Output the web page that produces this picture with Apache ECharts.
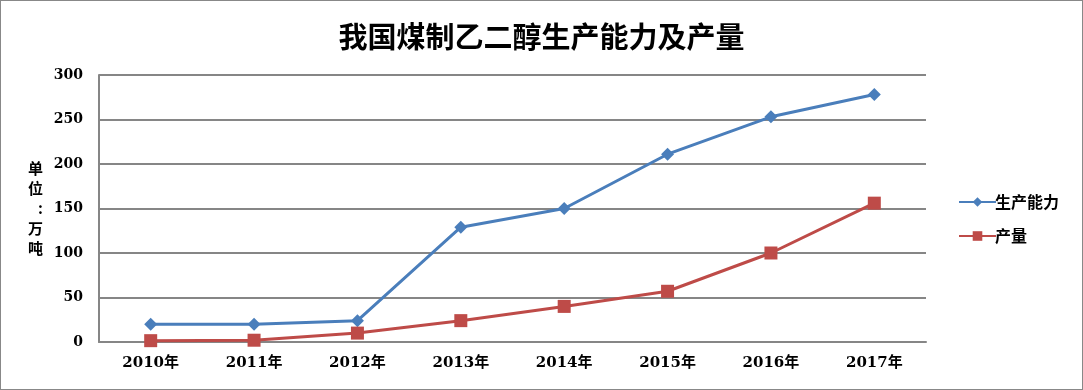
<!DOCTYPE html>
<html><head><meta charset="utf-8">
<script src="https://cdn.jsdelivr.net/npm/echarts@6/dist/echarts.min.js"></script>
<style>html,body{margin:0;padding:0;background:#fff}#wrap{position:relative;width:1083px;height:390px}#c{width:1083px;height:390px}#b{position:absolute;left:0;top:0;width:1083px;height:390px;box-sizing:border-box;border:1px solid #888;pointer-events:none}</style>
</head><body><div id="wrap"><div id="c"></div><div id="b"></div></div>
<script>
const categories = ['2010年','2011年','2012年','2013年','2014年','2015年','2016年','2017年'];
const capacity = [20, 20, 24, 129, 150, 211, 253, 278];
const output = [1.5, 2, 10, 24, 40, 57, 100, 156];
const seriesNames = ['生产能力', '产量'];
const titleText = '我国煤制乙二醇生产能力及产量';
const yName = '单\n位\n:\n万\n吨';

const FONT = '"DejaVu Serif","Noto Sans CJK SC",serif';
const chart = echarts.init(document.getElementById('c'));
chart.setOption({
  animation: false,
  backgroundColor: '#fff',
  title: { text: titleText, left: 'center', top: 17, textStyle: { fontFamily: '"Noto Sans CJK SC"', fontWeight: 'bold', fontSize: 29, color: '#000' } },
  grid: { left: 99, right: 157, top: 75, bottom: 48 },
  legend: {
    orient: 'vertical', left: 953, top: 189, itemWidth: 37, itemHeight: 12, itemGap: 18,
    textStyle: { fontFamily: '"Noto Sans CJK SC"', fontWeight: 'bold', fontSize: 16, color: '#000', padding: [0,0,0,-6] },
    data: seriesNames
  },
  xAxis: {
    type: 'category', data: categories, boundaryGap: true,
    axisLine: { lineStyle: { color: '#868686', width: 2 } },
    axisTick: { show: false },
    axisLabel: { fontFamily: FONT, fontWeight: 'bold', fontSize: 15, color: '#000', margin: 14 }
  },
  yAxis: {
    type: 'value', min: 0, max: 300, interval: 50,
    name: yName, nameLocation: 'middle', nameRotate: 0, nameGap: 56,
    nameTextStyle: { fontFamily: '"Noto Sans CJK SC"', fontWeight: 'bold', fontSize: 15, color: '#000', lineHeight: 20 },
    axisLine: { show: true, lineStyle: { color: '#868686', width: 2 } },
    axisTick: { show: false },
    splitLine: { lineStyle: { color: '#868686', width: 2 } },
    axisLabel: { fontFamily: FONT, fontWeight: 'bold', fontSize: 14, color: '#000', margin: 16 }
  },
  series: [
    { name: seriesNames[0], type: 'line', data: capacity, symbol: 'diamond', symbolSize: 13,
      itemStyle: { color: '#4A7EBB' }, lineStyle: { width: 3, color: '#4A7EBB' } },
    { name: seriesNames[1], type: 'line', data: output, symbol: 'rect', symbolSize: 13,
      itemStyle: { color: '#BE4B48' }, lineStyle: { width: 3, color: '#BE4B48' } }
  ]
});
</script></body></html>
